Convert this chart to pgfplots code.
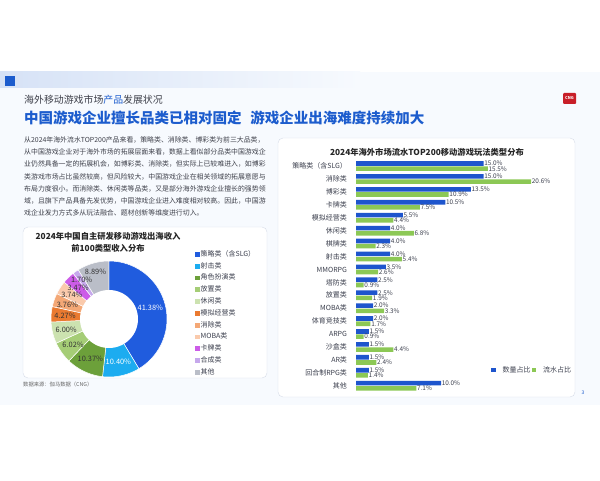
\documentclass[border=0pt]{standalone}
\usepackage{pgfplots}
\usepackage{pgfplotstable}
\pgfplotsset{compat=1.18}
\usepackage{fontspec}
\setmainfont{Noto Sans CJK SC}

\definecolor{slidebg}{RGB}{247,250,254}
\definecolor{stripblue}{RGB}{214,226,246}
\definecolor{titleblue}{RGB}{28,92,205}
\definecolor{bodygray}{RGB}{62,64,74}
\definecolor{labelgray}{RGB}{60,64,78}
\definecolor{cardborder}{RGB}{214,220,232}
\definecolor{barblue}{RGB}{30,85,205}
\definecolor{bargreen}{RGB}{140,200,85}
\definecolor{cngred}{RGB}{200,30,40}
% donut colours
\definecolor{cA}{RGB}{32,92,222}
\definecolor{cB}{RGB}{28,172,240}
\definecolor{cC}{RGB}{108,160,58}
\definecolor{cD}{RGB}{165,205,118}
\definecolor{cE}{RGB}{204,226,176}
\definecolor{cF}{RGB}{234,122,48}
\definecolor{cG}{RGB}{244,168,118}
\definecolor{cH}{RGB}{250,202,172}
\definecolor{cI}{RGB}{204,92,232}
\definecolor{cJ}{RGB}{198,168,236}
\definecolor{cK}{RGB}{186,190,200}

\pgfplotstableread{
idx num rev
0 15.0 15.5
1 15.0 20.6
2 13.5 10.9
3 10.5 7.5
4 5.5 4.4
5 4.0 6.8
6 4.0 2.3
7 4.0 5.4
8 3.5 2.6
9 2.5 0.9
10 2.5 1.9
11 2.0 3.3
12 2.0 1.7
13 1.5 0.9
14 1.5 4.4
15 1.5 2.4
16 1.5 1.4
17 10.0 7.1
}\bardata

\newcommand\slice[3]{\addplot[fill=#3, draw=white, line width=0.5pt, domain=#1:#2, samples=40] ({cos(90-3.6*x)},{sin(90-3.6*x)}) -- (axis cs:0,0) -- cycle;}
\newcommand\dlabel[4]{\node[font=\fontsize{7.4}{8}\selectfont, text=#4, inner sep=0pt] at (axis cs:{#2*cos(90-3.6*#1)},{#2*sin(90-3.6*#1)}) {#3};}

\begin{document}
\begin{tikzpicture}[x=1pt,y=1pt]
\path[fill=white] (0,0) rectangle (600,480);
\fill[slidebg] (0,75) rectangle (600,408);
\shade[left color=stripblue, right color=slidebg] (0,392) rectangle (360,408);
\fill[titleblue] (5,394) rectangle (15,404);
\node[anchor=west, inner sep=0pt, font=\fontsize{9.9}{11}\selectfont, text=bodygray] at (24,380) {海外移动游戏市场\textcolor{titleblue}{产品}发展状况};
\node[anchor=west, inner sep=0pt, font=\fontsize{14.5}{16}\selectfont\bfseries, text=titleblue] at (24,361.7) {中国游戏企业擅长品类已相对固定\hspace{0.6em}游戏企业出海难度持续加大};
\fill[cngred, rounded corners=1pt] (563,376) rectangle (576,387);
\node[text=white, font=\fontsize{4}{4}\selectfont\bfseries, inner sep=0pt] at (569.5,381.5) {CNG};

\begin{scope}[every node/.style={anchor=west, inner sep=0pt, font=\fontsize{6.9}{8}\selectfont, text=bodygray}]
\node at (24,340) {从2024年海外流水TOP200产品来看，策略类、消除类、博彩类为前三大品类，};
\node at (24,327.7) {从中国游戏企业对于海外市场的拓展层面来看，数据上看似部分品类中国游戏企};
\node at (24,315.6) {业仍然具备一定的拓展机会，如博彩类、消除类，但实际上已较难进入，如博彩};
\node at (24,303.4) {类游戏市场占比虽然较高，但风险较大，中国游戏企业在相关领域的拓展意愿与};
\node at (24,291.1) {布局力度很小。而消除类、休闲类等品类，又是部分海外游戏企业擅长的强势领};
\node at (24,278.9) {域，且旗下产品具备先发优势，中国游戏企业进入难度相对较高。因此，中国游};
\node at (24,266.7) {戏企业发力方式多从玩法融合、题材创新等维度进行切入。};
\end{scope}

% cards
\draw[cardborder, fill=white, rounded corners=5pt] (23,102) rectangle (267,253);
\draw[cardborder, fill=white, rounded corners=5pt] (278,83) rectangle (575,342);

\node[font=\fontsize{8.3}{9}\selectfont\bfseries, text=black!85, inner sep=0pt] at (108,244) {2024年中国自主研发移动游戏出海收入};
\node[font=\fontsize{8.3}{9}\selectfont\bfseries, text=black!85, inner sep=0pt] at (108,232) {前100类型收入分布};
\node[anchor=west, inner sep=0pt, font=\fontsize{5.3}{6}\selectfont, text=black!60] at (23,96) {数据来源：伽马数据（CNG）};
\node[font=\fontsize{8.3}{9}\selectfont\bfseries, text=black!85, inner sep=0pt] at (427,328) {2024年海外市场流水TOP200移动游戏玩法类型分布};
\node[font=\fontsize{5}{5}\selectfont, text=titleblue, inner sep=0pt] at (583,87) {3};

% donut
\begin{axis}[at={(51pt,103pt)}, anchor=south west, scale only axis,
  width=116pt, height=116pt, xmin=-1, xmax=1, ymin=-1, ymax=1, hide axis,
  legend cell align=left,
  legend image code/.code={\fill[#1, draw=none] (0pt,-2.4pt) rectangle (4.8pt,2.4pt);},
  legend style={at={(1.241,1.092)}, anchor=north west, draw=none, fill=none, inner sep=0pt,
    row sep=4.1pt, font=\fontsize{7}{8}\selectfont, text=labelgray,
    nodes={inner sep=0.7pt, text height=5pt, text depth=1.3pt}}]
\slice{0}{41.38}{cA}\addlegendentry{策略类（含SLG）}
\slice{41.38}{51.78}{cB}\addlegendentry{射击类}
\slice{51.78}{62.15}{cC}\addlegendentry{角色扮演类}
\slice{62.15}{68.17}{cD}\addlegendentry{放置类}
\slice{68.17}{74.17}{cE}\addlegendentry{休闲类}
\slice{74.17}{78.44}{cF}\addlegendentry{模拟经营类}
\slice{78.44}{82.20}{cG}\addlegendentry{消除类}
\slice{82.20}{85.94}{cH}\addlegendentry{MOBA类}
\slice{85.94}{89.41}{cI}\addlegendentry{卡牌类}
\slice{89.41}{91.11}{cJ}\addlegendentry{合成类}
\slice{91.11}{100}{cK}\addlegendentry{其他}
\addplot[fill=white, draw=none, domain=0:100, samples=90, forget plot] ({0.5*cos(3.6*x)},{0.5*sin(3.6*x)}) -- cycle;
\dlabel{20.69}{0.74}{41.38\%}{white}
\dlabel{46.58}{0.76}{10.40\%}{white}
\dlabel{56.965}{0.76}{10.37\%}{black!80}
\dlabel{65.16}{0.76}{6.02\%}{black!80}
\dlabel{71.17}{0.76}{6.00\%}{black!80}
\dlabel{76.305}{0.76}{4.27\%}{black!80}
\dlabel{80.32}{0.76}{3.76\%}{black!80}
\dlabel{84.07}{0.76}{3.74\%}{black!80}
\dlabel{87.675}{0.76}{3.47\%}{black!80}
\dlabel{90.26}{0.82}{1.70\%}{black!80}
\dlabel{95.555}{0.84}{8.89\%}{black!80}
\end{axis}

% bar chart
\begin{axis}[at={(356pt,87.8pt)}, anchor=south west, scale only axis,
  width=187pt, height=232.6pt, xmin=0, xmax=22, ymin=-0.5, ymax=17.5,
  y dir=reverse, xbar, bar width=4.6pt,
  axis line style={draw=none}, xtick=\empty, ytick={0,...,17},
  major tick length=0pt,
  yticklabels={策略类（含SLG）,消除类,博彩类,卡牌类,模拟经营类,休闲类,棋牌类,射击类,MMORPG,塔防类,放置类,MOBA类,体育竞技类,ARPG,沙盒类,AR类,回合制RPG类,其他},
  y tick label style={font=\fontsize{7}{8}\selectfont, text=labelgray, xshift=-5.5pt},
  /pgf/number format/assume math mode=true,
  nodes near coords={\pgfmathprintnumber[fixed,fixed zerofill,precision=1]{\pgfplotspointmeta}\%},
  every node near coord/.append style={anchor=west, inner sep=0.6pt, font=\fontsize{6.4}{6.5}\selectfont, text=labelgray},
  legend columns=2,
  legend image code/.code={\fill[#1, draw=none] (0pt,-2.2pt) rectangle (4.4pt,2.2pt);},
  legend style={at={(0.722,0.117)}, anchor=north west, draw=none, fill=none, inner sep=0pt,
    font=\fontsize{7}{8}\selectfont, text=labelgray,
    nodes={inner sep=1pt},
    /tikz/every odd column/.append style={column sep=6pt}}]
\addplot[fill=barblue, draw=none, bar shift=2.6pt] table[x=num, y=idx] \bardata;
\addlegendentry{数量占比}
\addplot[fill=bargreen, draw=none, bar shift=-2.6pt] table[x=rev, y=idx] \bardata;
\addlegendentry{流水占比}
\end{axis}
\end{tikzpicture}
\end{document}
